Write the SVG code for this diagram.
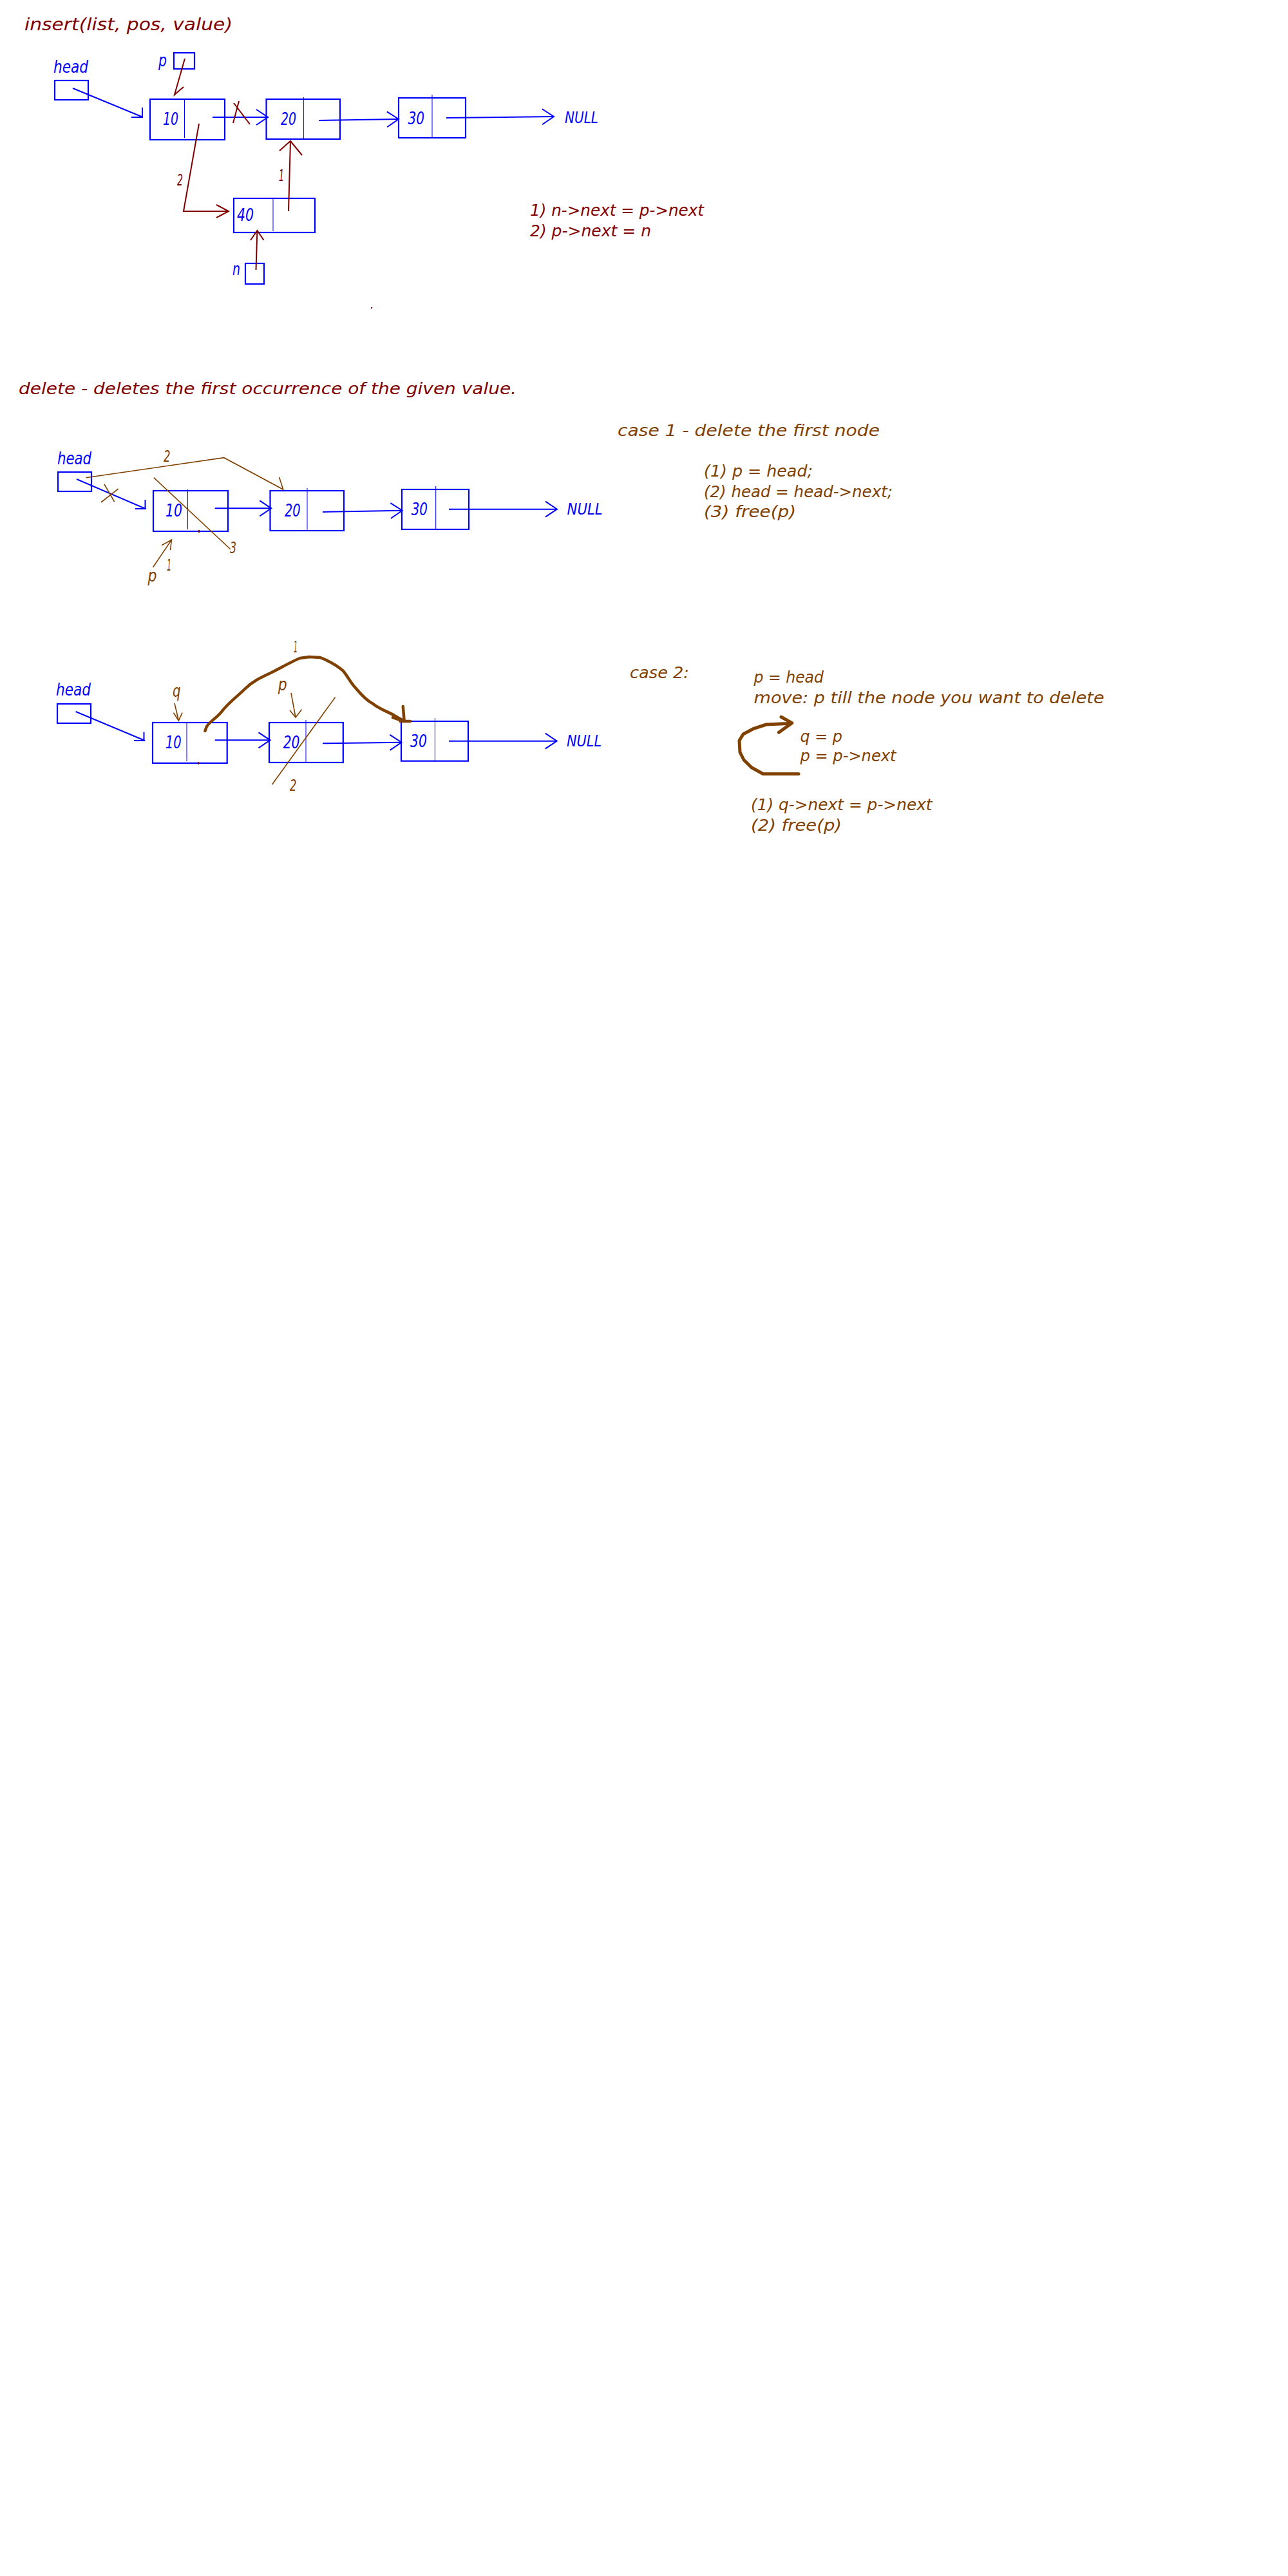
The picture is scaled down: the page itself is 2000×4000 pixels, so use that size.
<svg xmlns="http://www.w3.org/2000/svg" width="2000" height="4000" viewBox="0 0 2000 4000">
<defs>
<style>
text{font-family:"DejaVu Sans Condensed","Liberation Sans Narrow","Liberation Sans",sans-serif;font-style:italic}
.bl{fill:#0000ff}
.rd{fill:#800000}
.br{fill:#804000}
.t26{font-size:26px}
.t24{font-size:24px}
.t25{font-size:25px}
.box{fill:none;stroke:#0000ff;stroke-width:2.2}
.div{stroke:#0000ff;stroke-width:1}
.lb{fill:none;stroke:#0000ff;stroke-width:2}
.lr{fill:none;stroke:#800000;stroke-width:2}
.lw{fill:none;stroke:#804000;stroke-width:1.6}
.lwt{fill:none;stroke:#804000;stroke-width:5;stroke-linejoin:round;stroke-linecap:round}
</style>
<marker id="ab" viewBox="0 0 22 28" refX="20" refY="14" markerWidth="22" markerHeight="28" markerUnits="userSpaceOnUse" orient="auto">
<path d="M2,2 L20,14 L2,26" fill="none" stroke="#0000ff" stroke-width="2"/>
</marker>
</defs>
<rect width="2000" height="4000" fill="#ffffff"/>

<!-- ===== INSERT ===== -->
<g id="insert-title"><text class="rd t26" x="38" y="47" textLength="323" lengthAdjust="spacingAndGlyphs" style="font-size:27px">insert(list, pos, value)</text></g>
<g id="ins-head"><text class="bl t26" x="83" y="113" textLength="54" lengthAdjust="spacingAndGlyphs">head</text><rect class="box" x="85" y="125" width="52" height="30"/></g>
<g id="ins-p"><text class="bl t26" x="246" y="103" textLength="13" lengthAdjust="spacingAndGlyphs">p</text><rect class="box" x="270" y="82" width="32" height="25"/></g>
<g id="ins-n10"><rect class="box" x="233" y="154" width="116" height="63"/><line class="div" x1="286.5" y1="153" x2="286.5" y2="214"/><text class="bl t26" x="253" y="194" textLength="24" lengthAdjust="spacingAndGlyphs">10</text></g>
<g id="ins-n20"><rect class="box" x="413.5" y="154" width="114.5" height="62"/><line class="div" x1="471.6" y1="151" x2="471.6" y2="217"/><text class="bl t26" x="436" y="194" textLength="24" lengthAdjust="spacingAndGlyphs">20</text></g>
<g id="ins-n30"><rect class="box" x="619" y="152" width="104" height="62"/><line class="div" x1="671" y1="147" x2="671" y2="214"/><text class="bl t26" x="633.5" y="193" textLength="25.5" lengthAdjust="spacingAndGlyphs">30</text></g>
<g id="ins-null"><text class="bl t24" x="877" y="191" textLength="52" lengthAdjust="spacingAndGlyphs">NULL</text></g>
<g id="ins-n40"><rect class="box" x="363" y="308" width="126" height="53"/><line class="div" x1="424" y1="308" x2="424" y2="359"/><text class="bl t26" x="368" y="343" textLength="26" lengthAdjust="spacingAndGlyphs">40</text></g>
<g id="ins-n"><text class="bl t26" x="361" y="427" textLength="12" lengthAdjust="spacingAndGlyphs">n</text><rect class="box" x="381" y="409" width="29" height="32"/></g>
<g id="ins-steps">
<text class="rd t25" x="823" y="335" textLength="270" lengthAdjust="spacingAndGlyphs">1) n-&gt;next = p-&gt;next</text>
<text class="rd t25" x="823" y="367" textLength="188" lengthAdjust="spacingAndGlyphs">2) p-&gt;next = n</text>
</g>
<g id="ins-labels">
<text class="rd t24" x="433" y="281" textLength="8" lengthAdjust="spacingAndGlyphs">1</text>
<text class="rd t24" x="275" y="288" textLength="9" lengthAdjust="spacingAndGlyphs">2</text>
</g>

<!-- ===== DELETE ===== -->
<g id="delete-title"><text class="rd t25" x="29" y="612" textLength="773" lengthAdjust="spacingAndGlyphs">delete - deletes the first occurrence of the given value.</text></g>
<g id="case1-text">
<text class="br t25" x="959" y="677" textLength="407" lengthAdjust="spacingAndGlyphs">case 1 - delete the first node</text>
<text class="br t25" x="1093" y="740" textLength="169" lengthAdjust="spacingAndGlyphs">(1) p = head;</text>
<text class="br t25" x="1093" y="772" textLength="293" lengthAdjust="spacingAndGlyphs">(2) head = head-&gt;next;</text>
<text class="br t25" x="1093" y="803" textLength="143" lengthAdjust="spacingAndGlyphs">(3) free(p)</text>
</g>
<g id="d1-head"><text class="bl t26" x="89" y="721" textLength="53" lengthAdjust="spacingAndGlyphs">head</text><rect class="box" x="90" y="733" width="52" height="30"/></g>
<g id="d1-n10"><rect class="box" x="238" y="762" width="116" height="63"/><line class="div" x1="291.5" y1="760" x2="291.5" y2="822"/><text class="bl t26" x="257" y="802" textLength="26" lengthAdjust="spacingAndGlyphs">10</text></g>
<g id="d1-n20"><rect class="box" x="419.5" y="762" width="114.5" height="62"/><line class="div" x1="477" y1="758" x2="477" y2="825"/><text class="bl t26" x="442" y="802" textLength="24.6" lengthAdjust="spacingAndGlyphs">20</text></g>
<g id="d1-n30"><rect class="box" x="624" y="760" width="104" height="62"/><line class="div" x1="676.7" y1="755" x2="676.7" y2="822"/><text class="bl t26" x="638.7" y="800" textLength="25.3" lengthAdjust="spacingAndGlyphs">30</text></g>
<g id="d1-null"><text class="bl t24" x="880.6" y="799" textLength="55" lengthAdjust="spacingAndGlyphs">NULL</text></g>
<g id="d1-labels">
<text class="br t24" x="254" y="717" textLength="10.5" lengthAdjust="spacingAndGlyphs">2</text>
<text class="br t24" x="357" y="859" textLength="10" lengthAdjust="spacingAndGlyphs">3</text>
<text class="br t24" x="259" y="886" textLength="7" lengthAdjust="spacingAndGlyphs">1</text>
<text class="br t26" x="229.6" y="903" textLength="14" lengthAdjust="spacingAndGlyphs">p</text>
</g>

<g id="case2-text">
<text class="br t25" x="978" y="1053" textLength="92" lengthAdjust="spacingAndGlyphs">case 2:</text>
<text class="br t25" x="1170.6" y="1060" textLength="108.4" lengthAdjust="spacingAndGlyphs">p = head</text>
<text class="br t25" x="1170.6" y="1092" textLength="544" lengthAdjust="spacingAndGlyphs">move: p till the node you want to delete</text>
<text class="br t25" x="1242.5" y="1152" textLength="65.5" lengthAdjust="spacingAndGlyphs">q = p</text>
<text class="br t25" x="1242.5" y="1182" textLength="149" lengthAdjust="spacingAndGlyphs">p = p-&gt;next</text>
<text class="br t25" x="1166" y="1258" textLength="281.6" lengthAdjust="spacingAndGlyphs">(1) q-&gt;next = p-&gt;next</text>
<text class="br t25" x="1166" y="1290" textLength="141" lengthAdjust="spacingAndGlyphs">(2) free(p)</text>
</g>
<g id="d2-head"><text class="bl t26" x="87" y="1080" textLength="54" lengthAdjust="spacingAndGlyphs">head</text><rect class="box" x="89" y="1093" width="52" height="30"/></g>
<g id="d2-n10"><rect class="box" x="237" y="1122" width="115.7" height="63"/><line class="div" x1="290" y1="1122" x2="290" y2="1182"/><text class="bl t26" x="257" y="1162" textLength="24.7" lengthAdjust="spacingAndGlyphs">10</text></g>
<g id="d2-n20"><rect class="box" x="418" y="1122" width="114.8" height="62"/><line class="div" x1="475" y1="1118" x2="475" y2="1185"/><text class="bl t26" x="439.7" y="1162" textLength="25.7" lengthAdjust="spacingAndGlyphs">20</text></g>
<g id="d2-n30"><rect class="box" x="623" y="1120" width="104" height="61.7"/><line class="div" x1="675.4" y1="1115" x2="675.4" y2="1182"/><text class="bl t26" x="637" y="1160" textLength="26" lengthAdjust="spacingAndGlyphs">30</text></g>
<g id="d2-null"><text class="bl t24" x="880" y="1159" textLength="54" lengthAdjust="spacingAndGlyphs">NULL</text></g>
<g id="d2-labels">
<text class="br t26" x="268" y="1082" textLength="12.5" lengthAdjust="spacingAndGlyphs">q</text>
<text class="br t26" x="431.7" y="1072" textLength="14" lengthAdjust="spacingAndGlyphs">p</text>
<text class="br t24" x="456" y="1013" textLength="6" lengthAdjust="spacingAndGlyphs">1</text>
<text class="br t24" x="450" y="1228" textLength="10.5" lengthAdjust="spacingAndGlyphs">2</text>
</g>

<!-- ===== CONNECTORS ===== -->
<g id="connectors">
<!-- insert -->
<path class="lb" d="M113,137 L222,182 M221,167 L221,183 M204,182 L222,182"/>
<path class="lr" d="M287,91 L271,147 L285,135"/>
<path class="lb" d="M330,182 L416,182" marker-end="url(#ab)"/>
<path class="lr" d="M363,160 L388,193 M371,157 L362,191"/>
<path class="lb" d="M495,187 L619,185" marker-end="url(#ab)"/>
<path class="lb" d="M693,183 L860,181" marker-end="url(#ab)"/>
<path class="lr" d="M448,328 L451,219 M434,234 L451,219 L469,241"/>
<path class="lr" d="M309,192 L285,328 L355,328 M336,318 L355,328 L336,338"/>
<path class="lr" d="M397.5,419 L399.4,358 M389,373 L399.4,358 L409.6,373"/>
<circle cx="577" cy="478" r="1.2" fill="#800000"/>
<!-- delete case 1 -->
<path class="lb" d="M119,744 L226,790 M225.5,776 L225.5,791 M210,790 L227,790"/>
<path class="lw" d="M162,752 L177.6,779 M157,780 L183.7,759"/>
<path class="lw" d="M133.5,741.7 L347.8,710.7 L439.7,760 L433.6,741"/>
<path class="lw" d="M238.8,741.7 L358,853"/>
<path class="lw" d="M237.6,880.7 L266.4,838.3 M251,846.7 L266.4,838.3 L264.5,854"/>
<path class="lb" d="M333.7,789.3 L421.3,789.3" marker-end="url(#ab)"/>
<path class="lb" d="M501,795 L624.6,792.7" marker-end="url(#ab)"/>
<path class="lb" d="M697,790.7 L865,790.7" marker-end="url(#ab)"/>
<path class="lr" d="M309,823 L309,827"/>
<!-- delete case 2 -->
<path class="lb" d="M117.6,1105 L225,1150 M223.5,1136.7 L223.5,1151 M208,1150 L225.3,1150"/>
<path class="lb" d="M333.7,1149.3 L419.5,1149.3" marker-end="url(#ab)"/>
<path class="lb" d="M501,1154.3 L623.4,1152.7" marker-end="url(#ab)"/>
<path class="lb" d="M697,1150.7 L864.7,1150.7" marker-end="url(#ab)"/>
<path class="lw" d="M271,1092 L277.4,1119 M269.4,1106.7 L277.4,1119 L283,1106.7"/>
<path class="lw" d="M452,1076 L459,1114 M450,1103 L459,1114 L468.5,1101.7"/>
<path class="lwt" style="stroke-width:4.5" d="M318.4,1135 L321,1128 C328,1118 336.8,1115 345,1104 C356,1090 368,1082 380,1070 C392,1058 405,1052 420,1045 C438,1036 455,1026 466,1022 L480,1020 L497.3,1021 C510,1026 522,1032 532.8,1041.7 C540,1050 544,1060 552,1068 C562,1080 570,1088 578,1092 C590,1102 605,1106 614,1112 L627.7,1120 M625.8,1097 L627.7,1120 M610,1114 L627.7,1120 M621.6,1120 L637,1120"/>
<path class="lw" d="M520.5,1082.7 L422.5,1218.3"/>
<path class="lr" d="M308,1183 L308,1187"/>
<path class="lwt" d="M1240,1201.7 L1185,1201.7 L1167,1191.7 L1155,1180 L1149,1168 L1148,1150 L1154,1140 L1169.6,1131.7 L1190,1125 L1228,1123.3 M1213,1113.3 L1229.8,1122.7 L1209.4,1137.3"/>
</g>
</svg>
